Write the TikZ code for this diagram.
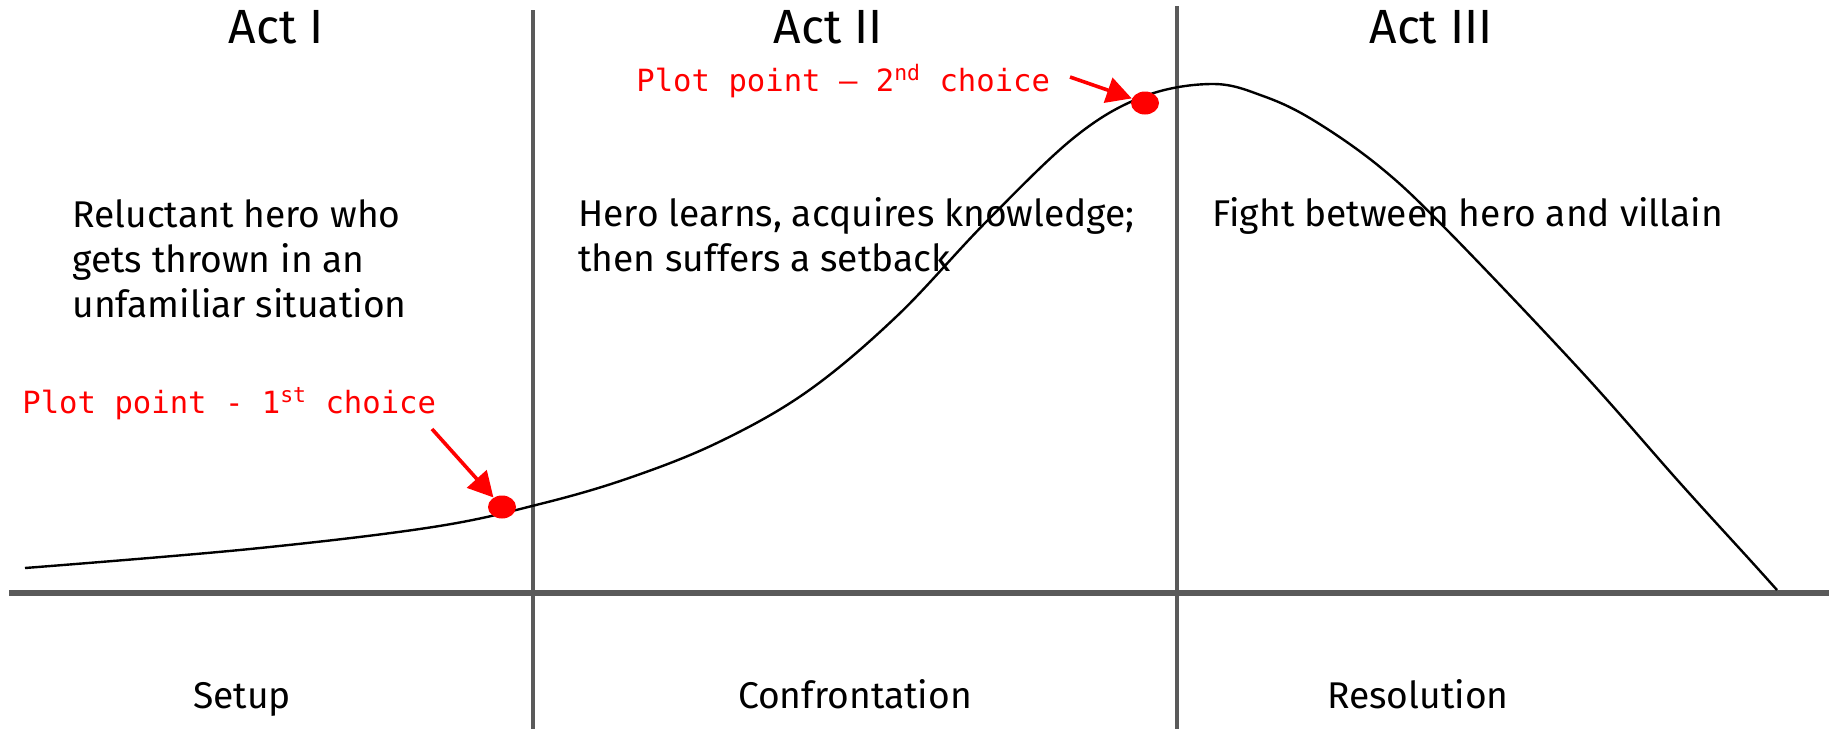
\documentclass[tikz,border=0pt]{standalone}
\usepackage{fontspec}
\setmainfont{Fira Sans}
\setmonofont{DejaVu Sans Mono}
\usetikzlibrary{arrows.meta,shapes.geometric}
\definecolor{plotred}{HTML}{FF0000}
\definecolor{axisgray}{HTML}{5A5A5A}

\begin{document}
\begin{tikzpicture}[
  x=0.5pt, y=-0.5pt,
  act/.style={font=\fontsize{24}{28}\selectfont, anchor=base, inner sep=0},
  story/.style={font=\fontsize{18.6}{22.5}\selectfont, align=left, anchor=base west, inner sep=0},
  phase/.style={font=\fontsize{18.6}{22}\selectfont, anchor=base, inner sep=0},
  plotlabel/.style={font=\ttfamily\fontsize{15.3}{18}\selectfont, text=plotred, anchor=base west, inner sep=0},
  plotdot/.style={ellipse, fill=plotred, minimum width=14pt, minimum height=11.5pt, inner sep=0},
  pointer/.style={-{Triangle[length=12.5pt,width=13pt]}, plotred, line width=1.8pt},
  divider/.style={draw=axisgray, line width=2pt},
  baseline axis/.style={draw=axisgray, line width=3pt},
  arc line/.style={draw=black, line width=1.2pt}
]
\useasboundingbox[fill=white] (0,0) rectangle (1837,729);

\draw[divider] (533,10) -- (533,729);
\draw[divider] (1177,6) -- (1177,729);
\draw[baseline axis] (9,593) -- (1829,593);

\draw[arc line] plot[smooth, tension=0.6] coordinates {
  (25,568) (250,549) (433,527) (540,504) (629,478) (719,442) (808,391)
  (897,316) (986,222) (1076,136) (1145,96) (1213,84) (1263,96)
  (1313,120) (1380,167) (1447,230) (1580,370) (1680,483) (1750,560)
  (1777,590)};

\node[act] (act1) at (276,43) {Act I};
\node[act] (act2) at (828,43) {Act II};
\node[act] (act3) at (1431,43) {Act III};

\node[story] (hero) at (72,317) {Reluctant hero who\\gets thrown in an\\unfamiliar situation};
\node[story] (learn) at (578,271) {Hero learns, acquires knowledge;\\then suffers a setback};
\node[story] (fight) at (1212,226) {Fight between hero and villain};

\node[phase] (setup) at (242,708) {Setup};
\node[phase] (confront) at (855,708) {Confrontation};
\node[phase] (resolve) at (1418,708) {Resolution};

\node[plotdot] (p1) at (502,507) {};
\node[plotdot] (p2) at (1145,103) {};
\node[plotlabel] (l1) at (22,413) {Plot point - 1\textsuperscript{st} choice};
\node[plotlabel] (l2) at (636,91) {Plot point – 2\textsuperscript{nd} choice};
\coordinate (a1) at (432,429);
\coordinate (a2) at (1070,77);
\draw[pointer] (a1) -- (p1);
\draw[pointer] (a2) -- (p2);
\end{tikzpicture}
\end{document}
